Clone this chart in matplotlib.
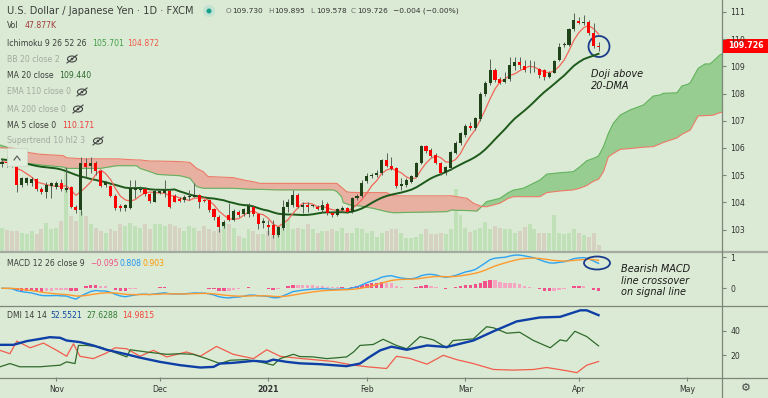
import numpy as np
import pandas as pd
import matplotlib
matplotlib.use("Agg")
import matplotlib.pyplot as plt
from matplotlib.patches import Ellipse, Rectangle
from matplotlib.lines import Line2D

W, H = 768, 398
BG = "#dbead4"

# daily USD/JPY candles, 16 Oct 2020 -> 7 Apr 2021 (FXCM, no bar on 25 Dec / 1 Jan)
opens = [105.40, 105.50, 105.45, 105.38, 104.64, 104.70, 104.70, 104.85, 104.48, 104.40,
         104.62, 104.55, 104.73, 104.46, 104.58, 103.84, 103.72, 105.44, 105.34, 105.46,
         105.17, 104.64, 104.62, 104.24, 103.87, 103.78, 103.78, 104.46, 104.46, 104.49,
         104.31, 104.03, 104.36, 104.33, 104.43, 104.24, 104.13, 104.09, 104.19, 104.19,
         104.27, 104.09, 104.09, 103.75, 103.48, 103.13, 103.54, 103.35, 103.66, 103.57,
         103.57, 103.82, 103.57, 103.23, 103.17, 103.17, 102.80, 103.05, 103.82, 103.90,
         104.27, 103.82, 103.90, 103.87, 103.84, 103.72, 103.94, 103.60, 103.54, 103.72,
         103.78, 103.66, 104.15, 104.24, 104.80, 104.97, 105.01, 105.07, 105.56, 105.34,
         105.25, 104.60, 104.64, 104.76, 104.95, 105.44, 106.07, 105.93, 105.74, 105.44,
         105.09, 105.25, 105.83, 106.17, 106.48, 106.81, 106.72, 107.05, 107.98, 108.38,
         108.87, 108.52, 108.44, 108.52, 109.01, 109.17, 109.01, 108.89, 108.89, 108.89,
         108.87, 108.62, 108.77, 109.23, 109.79, 109.79, 110.36, 110.68, 110.61, 110.62,
         110.22, 109.730]
highs = [105.60, 105.70, 105.55, 105.56, 104.95, 104.95, 104.92, 104.90, 104.55, 104.76,
         104.76, 104.80, 104.85, 105.31, 104.62, 103.90, 105.66, 105.62, 105.68, 105.53,
         105.20, 104.80, 104.65, 104.30, 103.95, 103.95, 104.82, 104.82, 104.60, 104.55,
         104.35, 104.48, 104.50, 104.82, 104.46, 104.30, 104.18, 104.27, 104.46, 104.70,
         104.30, 104.12, 104.12, 103.80, 103.52, 103.35, 103.97, 103.75, 103.72, 103.80,
         103.97, 103.90, 103.62, 103.41, 103.35, 103.35, 103.10, 104.09, 104.11, 104.46,
         104.36, 104.03, 104.03, 103.92, 103.90, 104.09, 104.00, 103.65, 103.80, 103.85,
         103.82, 104.20, 104.30, 104.82, 105.07, 105.08, 105.19, 105.58, 105.80, 105.68,
         105.30, 104.89, 104.88, 105.02, 105.50, 106.11, 106.11, 106.00, 105.80, 105.50,
         105.35, 105.90, 106.25, 106.60, 106.90, 106.95, 107.15, 108.05, 108.45, 109.26,
         108.95, 108.60, 108.81, 109.36, 109.33, 109.36, 109.23, 109.23, 109.20, 108.95,
         108.90, 108.82, 109.25, 109.85, 109.91, 110.40, 110.95, 110.83, 110.89, 110.70,
         110.58, 109.895]
lows = [105.30, 105.30, 105.30, 104.40, 104.55, 104.65, 104.62, 104.42, 104.30, 104.15,
        104.15, 104.50, 104.43, 104.40, 103.80, 103.60, 103.54, 104.95, 105.07, 105.01,
        104.58, 104.55, 104.20, 103.72, 103.70, 103.70, 103.75, 104.15, 104.40, 104.25,
        103.97, 104.00, 104.30, 104.21, 103.78, 104.00, 104.00, 104.03, 104.09, 104.19,
        103.78, 104.00, 103.66, 103.35, 102.92, 103.05, 103.30, 103.30, 103.48, 103.50,
        103.48, 103.50, 103.01, 103.05, 102.80, 102.68, 102.74, 102.99, 103.66, 103.84,
        103.78, 103.60, 103.66, 103.82, 103.72, 103.66, 103.54, 103.45, 103.50, 103.66,
        103.60, 103.62, 104.10, 104.20, 104.70, 104.90, 104.95, 105.01, 105.31, 105.20,
        104.52, 104.46, 104.58, 104.70, 104.92, 105.40, 105.80, 105.68, 105.40, 105.01,
        105.01, 105.20, 105.78, 106.10, 106.40, 106.65, 106.65, 107.00, 107.90, 108.30,
        108.44, 108.35, 108.38, 108.48, 108.87, 108.92, 108.80, 108.74, 108.80, 108.56,
        108.50, 108.56, 108.74, 109.18, 109.72, 109.75, 110.30, 110.55, 110.52, 110.15,
        109.66, 109.578]
closes = [105.50, 105.45, 105.40, 104.64, 104.89, 104.89, 104.85, 104.48, 104.40, 104.64,
          104.70, 104.73, 104.48, 104.52, 103.84, 103.72, 105.44, 105.31, 105.46, 105.17,
          104.60, 104.76, 104.24, 103.78, 103.78, 103.91, 104.52, 104.52, 104.49, 104.31,
          104.06, 104.43, 104.43, 104.46, 103.84, 104.03, 104.06, 104.19, 104.24, 104.27,
          104.03, 104.05, 103.72, 103.48, 103.11, 103.29, 103.35, 103.70, 103.54, 103.75,
          103.87, 103.57, 103.21, 103.33, 103.11, 102.80, 103.08, 103.82, 104.00, 104.27,
          103.82, 103.90, 103.84, 103.87, 103.75, 103.90, 103.60, 103.53, 103.75, 103.78,
          103.66, 104.15, 104.24, 104.70, 104.97, 105.01, 105.07, 105.56, 105.35, 105.24,
          104.60, 104.68, 104.82, 104.97, 105.44, 106.07, 105.90, 105.72, 105.44, 105.09,
          105.29, 105.86, 106.20, 106.56, 106.81, 106.72, 107.09, 107.98, 108.40, 108.87,
          108.50, 108.40, 108.52, 109.05, 109.17, 109.05, 108.87, 108.89, 108.89, 108.68,
          108.62, 108.77, 109.21, 109.72, 109.82, 110.36, 110.70, 110.61, 110.64, 110.22,
          109.75, 109.726]
volume_k = [184, 168, 160, 160, 144, 136, 160, 136, 176, 224, 176, 184, 240, 704, 280,
            240, 320, 280, 216, 184, 160, 144, 176, 160, 216, 200, 224, 200, 184, 216,
            176, 216, 216, 200, 216, 200, 184, 160, 200, 184, 160, 200, 176, 160, 176,
            224, 216, 184, 120, 104, 176, 160, 136, 136, 160, 144, 184, 208, 256, 176,
            184, 176, 216, 176, 144, 160, 160, 176, 160, 184, 144, 144, 184, 176, 144,
            160, 112, 144, 160, 176, 176, 144, 104, 104, 112, 136, 176, 136, 136, 144,
            136, 176, 496, 288, 184, 152, 168, 184, 232, 176, 200, 184, 176, 176, 144,
            160, 192, 216, 176, 144, 144, 144, 288, 144, 136, 144, 176, 144, 128, 112,
            144, 47.877]

# MA 20 for the first 19 bars (the closes before 16 Oct are off the chart)
ma20_head = [105.58, 105.56, 105.53, 105.50, 105.46, 105.42, 105.38, 105.34, 105.31, 105.29,
             105.27, 105.25, 105.21, 105.15, 105.08, 105.01, 104.95, 104.91, 104.86]

# Ichimoku cloud (leading spans, already shifted 26 bars ahead)
cloud_x = [-0.4, 1.0, 2.3, 5.0, 7.7, 12.4, 13.1, 16.5, 19.9, 23.3, 27.3, 28.0, 30.0, 31.5,
           36.1, 38.1, 39.5, 40.8, 41.8, 46.9, 49.6, 51.0, 52.3, 55.7, 67.2, 67.9, 68.9,
           69.2, 69.9, 70.6, 72.6, 75.3, 78.0, 79.4, 90.2, 91.2, 92.2, 94.3, 95.6, 96.3,
           97.3, 98.3, 101.0, 102.7, 103.7, 105.7, 107.1, 109.1, 110.5, 113.2, 115.9, 117.2,
           118.6, 120.0, 121.0, 122.0, 123.0, 124.0, 125.4, 127.4, 130.1, 132.1, 133.5,
           134.1, 136.9, 137.9, 139.2, 139.6, 141.2, 142.6, 143.6, 144.3, 145.6, 146.5]
lead_a = [106.11, 106.03, 105.80, 105.44, 105.38, 105.30, 105.25, 105.25, 105.25, 105.35,
          105.35, 105.25, 105.13, 105.03, 104.98, 104.89, 104.58, 104.52, 104.52, 104.52,
          104.49, 104.48, 104.48, 104.46, 104.46, 104.40, 104.20, 103.99, 103.95, 103.90,
          103.87, 103.78, 103.66, 103.62, 103.66, 103.72, 103.71, 103.70, 103.69, 103.68,
          103.85, 104.03, 104.15, 104.36, 104.45, 104.52, 104.64, 104.82, 105.04, 105.09,
          105.13, 105.31, 105.53, 105.62, 105.71, 106.05, 106.54, 106.91, 107.21, 107.40,
          107.58, 107.91, 107.95, 108.01, 108.03, 108.28, 108.35, 108.40, 108.93, 109.09,
          109.09, 109.20, 109.42, 109.50]
lead_b = [106.01, 106.00, 105.99, 105.84, 105.77, 105.72, 105.64, 105.60, 105.60, 105.60,
          105.56, 105.56, 105.52, 105.52, 105.50, 105.47, 105.25, 105.13, 104.95, 104.91,
          104.80, 104.76, 104.70, 104.70, 104.70, 104.70, 104.55, 104.50, 104.39, 104.37,
          104.36, 104.36, 104.36, 104.24, 104.24, 104.24, 104.21, 104.15, 103.97, 103.92,
          103.85, 103.84, 103.97, 104.15, 104.21, 104.21, 104.21, 104.21, 104.36, 104.42,
          104.46, 104.52, 104.62, 104.78, 104.85, 105.13, 105.68, 105.80, 105.95, 105.98,
          106.03, 106.05, 106.15, 106.20, 106.37, 106.50, 106.62, 106.66, 107.18, 107.19,
          107.20, 107.21, 107.30, 107.32]

# DMI 14 14
adx_x = [-0.4, 2.3, 5.0, 7.7, 9.7, 11.8, 13.1, 15.8, 18.5, 21.2, 25.3, 28.0, 32.0, 36.1,
         40.2, 42.9, 44.2, 46.9, 51.0, 53.7, 55.0, 57.7, 60.4, 64.5, 69.9, 72.6, 74.5,
         76.7, 79.0, 82.1, 86.2, 90.2, 95.6, 99.7, 104.4, 109.1, 113.2, 117.3, 118.6, 121.0]
adx = [28.5, 28.5, 31.5, 33.3, 34.7, 34.2, 32.0, 30.7, 28.0, 24.5, 20.8, 18.1, 14.7, 12.0,
       10.1, 10.6, 13.3, 13.9, 15.5, 14.7, 16.5, 14.7, 13.5, 12.8, 11.2, 13.3, 18.5,
       24.0, 27.0, 24.5, 28.0, 26.7, 32.0, 39.5, 47.5, 50.7, 51.2, 56.5, 56.5, 52.55]
plus_di_x = [-0.4, 1.6, 3.6, 7.7, 11.8, 13.1, 14.8, 15.5, 17.2, 19.9, 22.6, 25.3, 26.0,
             29.3, 33.4, 36.1, 38.8, 41.5, 44.2, 46.3, 49.6, 52.3, 55.0, 56.4, 59.1, 60.4,
             63.1, 65.9, 69.9, 71.3, 72.6, 75.3, 77.3, 80.0, 82.1, 84.8, 87.5, 90.2, 91.5,
             95.6, 98.3, 99.7, 102.4, 105.0, 107.8, 111.2, 113.2, 114.5, 116.2, 118.6, 121.0]
plus_di = [10.7, 13.3, 10.7, 10.7, 12.0, 14.7, 13.3, 28.0, 28.0, 26.7, 22.7, 18.7, 24.5,
           22.7, 20.8, 21.3, 20.8, 17.3, 13.3, 16.0, 16.5, 14.7, 12.0, 17.3, 20.8, 19.0,
           18.7, 17.3, 18.7, 22.7, 28.0, 28.8, 33.0, 28.0, 25.3, 35.2, 32.5, 26.1, 32.0,
           33.3, 43.2, 42.3, 37.9, 38.7, 32.0, 26.1, 32.5, 31.5, 39.5, 35.2, 27.63]
minus_di_x = [-0.4, 1.6, 3.0, 5.7, 8.4, 11.1, 13.1, 14.5, 15.8, 18.5, 21.2, 22.9, 25.3,
              28.0, 30.7, 33.4, 37.4, 40.2, 43.5, 46.9, 51.0, 53.7, 56.4, 60.4, 64.5, 67.2,
              69.9, 71.3, 74.5, 78.0, 80.0, 82.7, 86.2, 89.5, 92.2, 95.6, 99.7, 103.7,
              107.8, 110.5, 114.5, 116.6, 118.6, 121.0]
minus_di = [24.0, 21.3, 31.5, 26.1, 29.9, 24.0, 19.2, 29.3, 19.2, 17.3, 21.9, 26.1, 25.3,
            19.2, 24.0, 18.7, 22.7, 19.2, 27.2, 20.8, 17.3, 24.5, 19.2, 17.5, 16.0, 15.0,
            13.0, 12.0, 10.5, 9.3, 19.2, 17.5, 12.8, 20.0, 16.5, 13.3, 8.5, 8.0, 8.5,
            10.1, 7.5, 5.9, 12.0, 14.98]

month_dates = ["2020-11-02", "2020-12-01", "2021-01-04", "2021-02-01",
               "2021-03-01", "2021-04-01", "2021-05-03"]
month_labels = ["Nov", "Dec", "2021", "Feb", "Mar", "Apr", "May"]
price_ticks = [103, 104, 105, 106, 107, 108, 109, 110, 111]


def fx(x):
    return x / W


def fy(y):
    return 1 - y / H


def rect(x0, y0, x1, y1):
    return [fx(x0), fy(y1), (x1 - x0) / W, (y1 - y0) / H]


def label(fig, x, y, s, color, size=5.6, **kw):
    fig.text(fx(x), fy(y), s, color=color, fontsize=size, va="center", ha="left", **kw)


def eye_off(fig, cx, cy):
    """Little crossed-out eye that TradingView puts next to hidden studies."""
    fig.add_artist(Ellipse((fx(cx), fy(cy)), 9 / W, 6 / H, transform=fig.transFigure,
                           fill=False, ec="#444444", lw=0.8))
    fig.add_artist(Ellipse((fx(cx), fy(cy)), 2.5 / W, 2.5 / H, transform=fig.transFigure,
                           color="#444444", lw=0))
    fig.add_artist(Line2D([fx(cx - 5), fx(cx + 5)], [fy(cy + 4), fy(cy - 4)],
                          transform=fig.transFigure, color="#444444", lw=0.8))


def style_pane(ax):
    ax.set_facecolor("none")
    for s in ax.spines.values():
        s.set_visible(False)
    ax.yaxis.tick_right()
    ax.tick_params(axis="y", length=3, width=0.8, color="#7d867b", pad=3,
                   labelsize=5.6, labelcolor="#333333")
    ax.tick_params(axis="x", bottom=False, labelbottom=False)


def main():
    o = np.array(opens)
    h = np.array(highs)
    l = np.array(lows)
    c = np.array(closes)
    n = len(c)
    x = np.arange(n)
    up = c >= o

    dates = pd.bdate_range("2020-10-16", "2021-06-30")
    dates = dates[~dates.isin(pd.to_datetime(["2020-12-25", "2021-01-01"]))]
    month_pos = [dates.get_loc(pd.Timestamp(d)) for d in month_dates]

    close_s = pd.Series(c)
    ma5 = close_s.rolling(5, min_periods=1).mean()
    ma20 = close_s.rolling(20).mean()
    ma20.iloc[:len(ma20_head)] = ma20_head

    ema12 = close_s.ewm(span=12, adjust=False).mean()
    ema26 = close_s.ewm(span=26, adjust=False).mean()
    macd = ema12 - ema26
    signal = macd.ewm(span=9, adjust=False).mean()
    hist = macd - signal

    fig = plt.figure(figsize=(W / 100, H / 100), dpi=100, facecolor=BG)
    xlim = (-0.41, 146.04)

    # volume sits under the price pane
    axv = fig.add_axes(rect(0, 0, 722, 251), zorder=0)
    axv.set_facecolor(BG)
    axv.axis("off")
    axv.bar(x, volume_k, width=0.8, color=np.where(up, "#c0e0b8", "#d5d2c2"), lw=0)
    axv.set_xlim(xlim)
    axv.set_ylim(0, 2008)

    ax = fig.add_axes(rect(0, 0, 722, 251), zorder=1)
    style_pane(ax)
    ax.set_xlim(xlim)
    ax.set_ylim(102.213, 111.441)
    ax.set_yticks(price_ticks)

    # cloud
    ca = np.array(lead_a)
    cb = np.array(lead_b)
    ax.fill_between(cloud_x, ca, cb, where=ca >= cb, interpolate=True,
                    color="#97cd90", lw=0, zorder=1)
    ax.fill_between(cloud_x, ca, cb, where=ca < cb, interpolate=True,
                    color="#e7b0a1", lw=0, zorder=1)
    ax.plot(cloud_x, ca, color="#62b35e", lw=0.8, zorder=2)
    ax.plot(cloud_x, cb, color="#ee7a68", lw=0.8, zorder=2)

    ax.plot(x, ma20, color="#1d5a1b", lw=1.4, zorder=3)
    ax.plot(x, ma5, color="#f2665a", lw=0.9, zorder=3)

    # candles
    ax.vlines(x, l, h, color="#57625a", lw=0.7, zorder=4)
    body = np.maximum(np.abs(c - o), 0.025)
    ax.bar(x, body, bottom=np.minimum(o, c), width=0.62,
           color=np.where(up, "#1f4219", "#ff0000"), lw=0, zorder=5)

    # MACD pane
    axm = fig.add_axes(rect(0, 252, 722, 305), sharex=ax)
    style_pane(axm)
    axm.set_ylim(-0.54, 1.17)
    axm.set_yticks([0, 1])
    prev = hist.shift(1).fillna(0)
    strong = np.where(hist >= 0, hist >= prev, hist <= prev)
    axm.bar(x, hist, width=0.7, color=np.where(strong, "#f2508b", "#f5a5c2"), lw=0)
    axm.plot(x, macd, color="#2ea3f2", lw=1.0)
    axm.plot(x, signal, color="#ff9a2e", lw=1.0)

    # DMI pane
    axd = fig.add_axes(rect(0, 306, 722, 377), sharex=ax)
    style_pane(axd)
    axd.set_ylim(2.4, 60)
    axd.set_yticks([20, 40])
    axd.plot(minus_di_x, minus_di, color="#f25c4c", lw=0.9)
    axd.plot(plus_di_x, plus_di, color="#2f6b2c", lw=0.9)
    axd.plot(adx_x, adx, color="#0d3fa6", lw=1.7)
    axd.tick_params(axis="x", bottom=True, labelbottom=True, length=3, width=0.8,
                    color="#7d867b", pad=3, labelsize=5.6, labelcolor="#333333")
    axd.set_xticks(month_pos)
    axd.set_xticklabels(month_labels)
    for t in axd.get_xticklabels():
        if t.get_text() == "2021":
            t.set_fontweight("bold")

    # separators and the price scale border
    for y, col, lw in [(251.5, "#a3aa9f", 1.6), (305.5, "#7d867b", 0.9), (377.5, "#7d867b", 0.9)]:
        fig.add_artist(Line2D([0, 1], [fy(y), fy(y)], transform=fig.transFigure, color=col, lw=lw))
    fig.add_artist(Line2D([fx(722), fx(722)], [0, 1], transform=fig.transFigure,
                          color="#7d867b", lw=0.9))

    # last price tag
    fig.add_artist(Rectangle((fx(722), fy(53)), 46 / W, 14 / H, transform=fig.transFigure,
                             color="#ff0000", lw=0))
    label(fig, 728, 46, "109.726", "white", size=5.7, fontweight="bold")

    # collapse-legend button
    fig.add_artist(Rectangle((fx(7), fy(166)), 20 / W, 18 / H, transform=fig.transFigure,
                             fc="#e2eedd", ec="#cbd9c6", lw=0.6, zorder=3))
    fig.add_artist(Line2D([fx(14), fx(17), fx(20)], [fy(160), fy(156), fy(160)],
                          transform=fig.transFigure, color="#555555", lw=0.8, zorder=4))

    # header and study legend
    dark = "#3c3f3c"
    faint = "#a2aaa0"
    label(fig, 7, 11, "U.S. Dollar / Japanese Yen · 1D · FXCM", dark, size=7.1)
    fig.add_artist(Ellipse((fx(209), fy(11)), 12 / W, 12 / H, transform=fig.transFigure,
                           color="#c2e2d2", lw=0))
    fig.add_artist(Ellipse((fx(209), fy(11)), 5 / W, 5 / H, transform=fig.transFigure,
                           color="#14a08a", lw=0))
    for xx, letter, val in [(226, "O", "109.730"), (268, "H", "109.895"),
                            (310, "L", "109.578"), (351, "C", "109.726")]:
        label(fig, xx, 11, letter, "#6d726d", size=5.3)
        label(fig, xx + 6.5, 11, val, "#333333", size=5.3)
    label(fig, 393, 11, "\u22120.004 (\u22120.00%)", "#333333", size=5.4)

    label(fig, 7, 26, "Vol", dark)
    label(fig, 25, 26, "47.877K", "#a13c3c")
    label(fig, 7, 43, "Ichimoku 9 26 52 26", dark)
    label(fig, 92.5, 43, "105.701", "#43a047")
    label(fig, 127.5, 43, "104.872", "#f05a4a")
    label(fig, 7, 59, "BB 20 close 2", faint)
    eye_off(fig, 72, 59)
    label(fig, 7, 76, "MA 20 close", dark)
    label(fig, 59, 76, "109.440", "#2e6b2e")
    label(fig, 7, 92, "EMA 110 close 0", faint)
    eye_off(fig, 82, 92)
    label(fig, 7, 109, "MA 200 close 0", faint)
    eye_off(fig, 78, 109)
    label(fig, 7, 125, "MA 5 close 0", dark)
    label(fig, 62, 125, "110.171", "#f03c3c")
    label(fig, 7, 141, "Supertrend 10 hl2 3", faint)
    eye_off(fig, 98, 141)

    label(fig, 7, 264, "MACD 12 26 close 9", dark)
    label(fig, 90.5, 264, "\u22120.095", "#f0508a")
    label(fig, 120, 264, "0.808", "#2196f3")
    label(fig, 142.5, 264, "0.903", "#ff9800")
    label(fig, 7, 316, "DMI 14 14", dark)
    label(fig, 50.5, 316, "52.5521", "#0d47a1")
    label(fig, 86, 316, "27.6288", "#2e7d32")
    label(fig, 122.5, 316, "14.9815", "#f44336")

    # annotations
    fig.add_artist(Ellipse((fx(599), fy(46.5)), 21 / W, 21 / H, transform=fig.transFigure,
                           fill=False, ec="#1b3c8c", lw=1.3))
    label(fig, 591, 74, "Doji above", "#1a1a1a", size=7, style="italic")
    label(fig, 591, 86, "20-DMA", "#1a1a1a", size=7, style="italic")
    fig.add_artist(Ellipse((fx(597), fy(263)), 26 / W, 13 / H, transform=fig.transFigure,
                           fill=False, ec="#1b3c8c", lw=1.3))
    label(fig, 621, 269, "Bearish MACD", "#1a1a1a", size=7, style="italic")
    label(fig, 621, 281, "line crossover", "#1a1a1a", size=7, style="italic")
    label(fig, 621, 292, "on signal line", "#1a1a1a", size=7, style="italic")

    fig.text(fx(746), fy(388), "\u2699", fontsize=8, color="#444444", ha="center", va="center")

    fig.savefig("out.png", dpi=100, facecolor=BG)


if __name__ == "__main__":
    main()
